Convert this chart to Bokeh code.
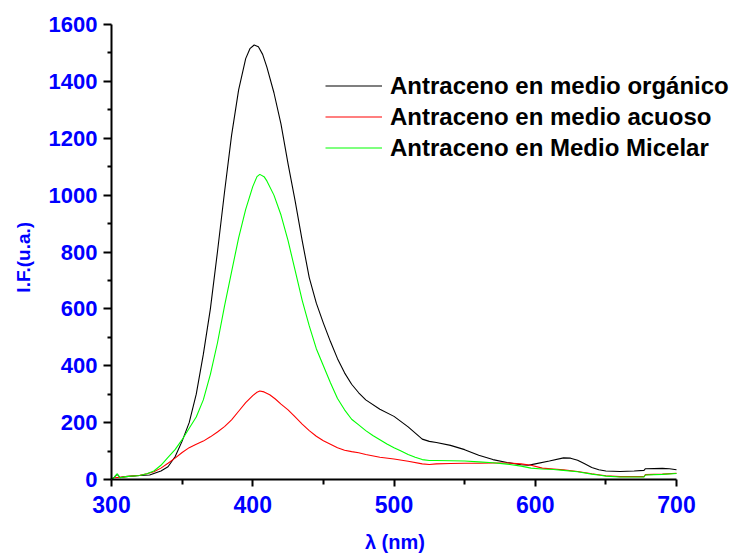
from bokeh.plotting import figure
from bokeh.models import Range1d, Legend, LegendItem, FixedTicker
from bokeh.embed import file_html
from bokeh.resources import INLINE

# Emission spectra of anthracene (wavelength in nm, fluorescence intensity in a.u.)
wl_organico = [300, 302, 304, 306, 310, 320, 327, 335, 340, 345, 350, 355, 360, 365,
               370, 375, 380, 385, 390, 395, 398, 401, 404, 407, 410, 415, 420, 425,
               430, 435, 440, 445, 450, 455, 460, 465, 470, 475, 480, 490, 500, 510,
               520, 525, 530, 540, 550, 560, 570, 580, 590, 595, 600, 610, 620, 625,
               630, 635, 640, 645, 650, 660, 670, 677, 678, 690, 695, 700]
if_organico = [2, 8, 19, 7, 10, 14, 16, 30, 45, 80, 135, 200, 300, 440,
               600, 800, 1010, 1210, 1370, 1480, 1515, 1528, 1522, 1495, 1450, 1360, 1250, 1110,
               980, 840, 710, 620, 550, 485, 425, 375, 335, 305, 280, 247, 222, 185,
               142, 134, 130, 120, 105, 85, 70, 60, 52, 50, 55, 65, 76, 75,
               68, 55, 42, 34, 30, 28, 30, 32, 38, 39, 38, 34]

wl_acuoso = [302, 306, 310, 320, 325, 330, 335, 340, 345, 350, 355, 360, 365, 370,
             375, 380, 385, 390, 395, 400, 403, 405, 408, 412, 416, 420, 425, 430,
             435, 440, 445, 450, 455, 460, 465, 470, 475, 480, 490, 500, 510, 520,
             525, 530, 540, 550, 560, 570, 580, 590, 597, 605, 613, 620, 630, 640,
             646, 650, 660, 670, 677, 678, 690, 700]
if_acuoso = [6, 8, 10, 15, 20, 27, 40, 57, 75, 95, 112, 124, 135, 150,
             167, 186, 210, 240, 270, 295, 307, 311, 308, 298, 283, 265, 245, 220,
             195, 172, 152, 136, 124, 112, 103, 98, 94, 88, 78, 72, 64, 55,
             53, 55, 56, 57, 57, 58, 58, 55, 50, 40, 37, 34, 28, 20,
             16, 13, 10, 10, 10, 17, 19, 22]

wl_micelar = [300, 302, 304, 306, 310, 320, 325, 330, 335, 340, 345, 350, 355, 360,
              365, 370, 375, 380, 385, 390, 395, 400, 403, 405, 408, 410, 415, 420,
              425, 430, 435, 440, 445, 450, 455, 460, 465, 470, 475, 480, 485, 490,
              495, 500, 505, 510, 515, 520, 525, 530, 540, 550, 560, 570, 580, 590,
              597, 605, 613, 620, 630, 640, 646, 650, 660, 670, 677, 678, 690, 700]
if_micelar = [0, 8, 20, 6, 10, 14, 20, 30, 50, 78, 105, 140, 180, 220,
              280, 370, 480, 610, 730, 850, 950, 1030, 1065, 1073, 1065, 1050, 1000, 930,
              840, 735, 630, 540, 460, 400, 340, 285, 245, 212, 192, 172, 155, 140,
              125, 112, 100, 88, 78, 70, 67, 67, 66, 65, 62, 59, 54, 47,
              40, 37, 35, 32, 27, 19, 15, 12, 9, 9, 9, 16, 18, 21]

x_ticks = [300, 400, 500, 600, 700]
x_minor = [350, 450, 550, 650]
y_ticks = [0, 200, 400, 600, 800, 1000, 1200, 1400, 1600]
y_minor = [100, 300, 500, 700, 900, 1100, 1300, 1500]

labels = ["Antraceno en medio orgánico",
          "Antraceno en medio acuoso",
          "Antraceno en Medio Micelar"]
x_title = "λ (nm)"
y_title = "I.F.(u.a.)"

FONT = "Liberation Sans"
BLUE = "#0000FF"
NBSP = "\u00a0"

# The frame runs to the right edge so the legend has room; the x axis itself
# is bounded to 300-700 nm.
p = figure(width=739, height=555, output_backend="svg", toolbar_location=None,
           x_range=Range1d(300, 744.6), y_range=Range1d(0, 1600),
           min_border_left=111, min_border_right=0,
           min_border_top=24, min_border_bottom=76)
p.outline_line_color = None
p.grid.visible = False
p.background_fill_color = "white"
p.border_fill_color = "white"

r_org = p.line(wl_organico, if_organico, line_color="black", line_width=1.1)
r_acu = p.line(wl_acuoso, if_acuoso, line_color="#FF0000", line_width=1.1)
r_mic = p.line(wl_micelar, if_micelar, line_color="#00FF00", line_width=1.1)

p.xaxis.ticker = FixedTicker(ticks=x_ticks, minor_ticks=x_minor)
p.yaxis.ticker = FixedTicker(ticks=y_ticks, minor_ticks=y_minor)
p.xaxis.bounds = (300, 700)
# Axis titles are centred on the whole frame; trailing no-break spaces
# shift the visible text back over the 300-700 nm span.
p.xaxis.axis_label = x_title + NBSP * 11
p.yaxis.axis_label = y_title + NBSP * 2

for ax in (p.xaxis, p.yaxis):
    ax.axis_line_width = 2
    ax.axis_line_color = "black"
    ax.major_tick_line_width = 2
    ax.minor_tick_line_width = 2
    ax.major_tick_in = 0
    ax.minor_tick_in = 0
    ax.major_label_text_font = FONT
    ax.major_label_text_font_style = "bold"
    ax.major_label_text_font_size = "22px"
    ax.major_label_text_color = BLUE
    ax.axis_label_text_font = FONT
    ax.axis_label_text_font_style = "bold"
    ax.axis_label_text_font_size = "19px"
    ax.axis_label_text_color = BLUE

p.xaxis.major_label_text_font_size = "23px"
p.xaxis.axis_label_text_font_size = "20px"
p.xaxis.major_tick_out = 7
p.xaxis.minor_tick_out = 5
p.yaxis.major_tick_out = 8
p.yaxis.minor_tick_out = 4
p.xaxis.major_label_standoff = 9
p.yaxis.major_label_standoff = 6
p.xaxis.axis_label_standoff = 15
p.yaxis.axis_label_standoff = 12

legend = Legend(items=[LegendItem(label=labels[0], renderers=[r_org]),
                       LegendItem(label=labels[1], renderers=[r_acu]),
                       LegendItem(label=labels[2], renderers=[r_mic])],
                location=(214, 316), border_line_color=None,
                background_fill_alpha=0, padding=0, margin=0, spacing=0,
                glyph_width=57, glyph_height=31, label_height=31,
                label_standoff=8,
                label_text_font=FONT, label_text_font_style="bold",
                label_text_font_size="24px", label_text_color="black")
p.add_layout(legend)

open("out.html", "w").write(file_html(p, INLINE))
